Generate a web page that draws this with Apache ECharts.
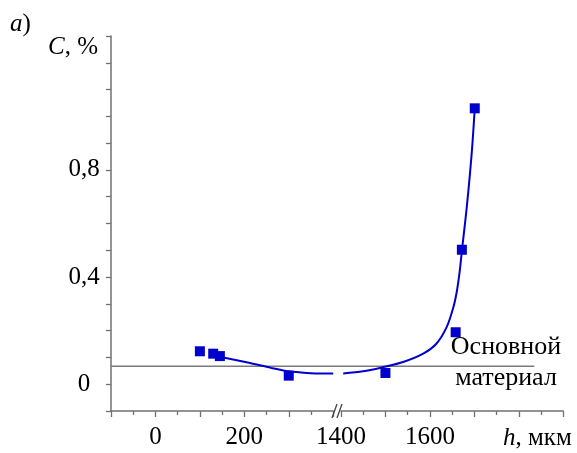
<!DOCTYPE html>
<html>
<head>
<meta charset="utf-8">
<script src="https://cdn.jsdelivr.net/npm/echarts@6/dist/echarts.min.js"></script>
<style>
html,body{margin:0;padding:0;background:#fff;}
#chart{width:577px;height:453px;}
</style>
</head>
<body>
<div id="chart"></div>
<script>
// ---- data ----
// measured points (h, мкм ; C, %)
const pointH = [100, 130, 145, 300, 1500, 1658, 1672, 1701];
const pointC = [0.123, 0.114, 0.105, 0.032, 0.042, 0.194, 0.502, 1.03];
// fitted curve, left part of the broken axis
const curveLeftH = [150, 213, 260, 300, 340, 380, 400];
const curveLeftC = [0.101, 0.079, 0.061, 0.048, 0.042, 0.040, 0.040];
// fitted curve, right part of the broken axis
const curveRightH = [1405, 1450, 1495, 1540, 1585, 1615, 1638, 1653, 1661, 1667, 1672, 1683, 1694, 1701];
const curveRightC = [0.040, 0.048, 0.064, 0.083, 0.114, 0.152, 0.214, 0.288, 0.350, 0.420, 0.497, 0.661, 0.860, 1.030];
// base material level (from the y axis to h = 1835)
const baseLevel = 0.067;
const baseStartH = -100;
const baseEndH = 1835;
// axis ranges / tick labels
const xLeftRange = [-100, 400];
const xRightRange = [1400, 1900];
const xTickLabels = [0, 200, 1400, 1600];
const yRange = [-0.1, 1.3];
const yTickLabels = [0, 0.4, 0.8];

const FONT = '"Liberation Serif", "Times New Roman", serif';
const AXIS_COLOR = '#707070';
const BLUE = '#0000CC';

// layout of the broken axis: both segments share the same px-per-unit scale
const SEG_W = 222.2;
const LEFT_X = 111, RIGHT_X = 341;
const unitPx = SEG_W / (xLeftRange[1] - xLeftRange[0]);
// continuous coordinate used only by the hidden full-width axis for the base line
const fullMax = xLeftRange[0] + (RIGHT_X + SEG_W - LEFT_X) / unitPx;
const rightOffset = xRightRange[0] - (xLeftRange[0] + (RIGHT_X - LEFT_X) / unitPx);
const toFull = h => (h <= xLeftRange[1] ? h : h - rightOffset);

function pairs(xs, ys) { return xs.map((x, i) => [x, ys[i]]); }
const leftPts = pairs(pointH, pointC).filter(p => p[0] <= xLeftRange[1]);
const rightPts = pairs(pointH, pointC).filter(p => p[0] >= xRightRange[0]);

function xAxisCfg(idx, range) {
  return {
    type: 'value', gridIndex: idx, min: range[0], max: range[1], interval: 100,
    axisLine: { show: true, onZero: false, lineStyle: { color: AXIS_COLOR, width: 1.5 } },
    axisTick: { show: true, length: 6, lineStyle: { color: AXIS_COLOR, width: 1.3 } },
    minorTick: { show: true, splitNumber: 2, length: 4, lineStyle: { color: AXIS_COLOR, width: 1.3 } },
    splitLine: { show: false },
    axisLabel: {
      margin: 14, color: '#000', fontFamily: FONT, fontSize: 25,
      formatter: v => xTickLabels.includes(v) ? String(v) : ''
    }
  };
}

const chart = echarts.init(document.getElementById('chart'), null, { renderer: 'canvas' });
chart.setOption({
  backgroundColor: '#fff',
  animation: false,
  textStyle: { fontFamily: FONT },
  grid: [
    { left: LEFT_X, top: 36, width: SEG_W, height: 375 },
    { left: RIGHT_X, top: 36, width: SEG_W, height: 375 },
    { left: LEFT_X, top: 36, width: RIGHT_X + SEG_W - LEFT_X, height: 375 }
  ],
  xAxis: [
    xAxisCfg(0, xLeftRange),
    xAxisCfg(1, xRightRange),
    { type: 'value', gridIndex: 2, min: xLeftRange[0], max: fullMax, show: false }
  ],
  yAxis: [
    {
      type: 'value', gridIndex: 0, min: yRange[0], max: yRange[1], interval: 0.1,
      axisLine: { show: true, onZero: false, lineStyle: { color: AXIS_COLOR, width: 1.5 } },
      axisTick: { show: true, length: 5, lineStyle: { color: AXIS_COLOR, width: 1.3 } },
      splitLine: { show: false },
      axisLabel: {
        margin: 27, align: 'center', color: '#000', fontFamily: FONT, fontSize: 25,
        formatter: v => {
          const r = Math.round(v * 10) / 10;
          return yTickLabels.includes(r) ? String(r).replace('.', ',') : '';
        }
      }
    },
    { type: 'value', gridIndex: 1, min: yRange[0], max: yRange[1], show: false },
    { type: 'value', gridIndex: 2, min: yRange[0], max: yRange[1], show: false }
  ],
  series: [
    { type: 'line', xAxisIndex: 2, yAxisIndex: 2,
      data: [[toFull(baseStartH), baseLevel], [toFull(baseEndH), baseLevel]],
      symbol: 'none', lineStyle: { color: '#7a7a7a', width: 1.5 }, z: 1 },
    { type: 'line', xAxisIndex: 0, yAxisIndex: 0, data: pairs(curveLeftH, curveLeftC), smooth: 0.3,
      symbol: 'none', lineStyle: { color: BLUE, width: 2 }, z: 2 },
    { type: 'line', xAxisIndex: 1, yAxisIndex: 1, data: pairs(curveRightH, curveRightC), smooth: 0.3,
      symbol: 'none', lineStyle: { color: BLUE, width: 2 }, z: 2 },
    { type: 'scatter', xAxisIndex: 0, yAxisIndex: 0, data: leftPts, symbol: 'rect', symbolSize: 10,
      itemStyle: { color: BLUE, opacity: 1 }, z: 3 },
    { type: 'scatter', xAxisIndex: 1, yAxisIndex: 1, data: rightPts, symbol: 'rect', symbolSize: 10,
      itemStyle: { color: BLUE, opacity: 1 }, z: 3 }
  ],
  graphic: [
    { type: 'line', shape: { x1: 332, y1: 418, x2: 337, y2: 404 }, style: { stroke: '#444', lineWidth: 1.3 }, z: 10 },
    { type: 'line', shape: { x1: 337, y1: 418, x2: 342, y2: 404 }, style: { stroke: '#444', lineWidth: 1.3 }, z: 10 },
    { type: 'text', left: 10, top: 12, style: {
        text: '{i|а}{n|)}', fill: '#000',
        rich: { i: { fontStyle: 'italic', fontSize: 25, fontFamily: FONT, fill: '#000' },
                n: { fontSize: 25, fontFamily: FONT, fill: '#000' } } } },
    { type: 'text', left: 48, top: 35, style: {
        text: '{i|C}{n|, %}', fill: '#000',
        rich: { i: { fontStyle: 'italic', fontSize: 25, fontFamily: FONT, fill: '#000' },
                n: { fontSize: 25, fontFamily: FONT, fill: '#000' } } } },
    { type: 'text', left: 503, top: 426, style: {
        text: '{i|h}{n|, мкм}', fill: '#000',
        rich: { i: { fontStyle: 'italic', fontSize: 25, fontFamily: FONT, fill: '#000' },
                n: { fontSize: 25, fontFamily: FONT, fill: '#000' } } } },
    { type: 'text', x: 506, y: 347, style: {
        text: 'Основной', font: '26px ' + FONT, fill: '#000', align: 'center', verticalAlign: 'middle' }, z: 5 },
    { type: 'text', x: 506, y: 378, style: {
        text: 'материал', font: '26px ' + FONT, fill: '#000', align: 'center', verticalAlign: 'middle' }, z: 5 }
  ]
});
</script>
</body>
</html>
